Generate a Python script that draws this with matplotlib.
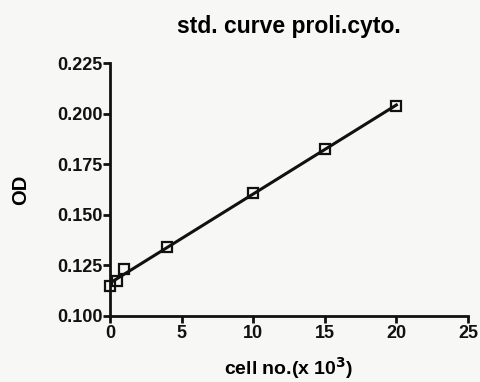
import numpy as np
import matplotlib
matplotlib.use("Agg")
from matplotlib import pyplot as plt

plt.rcParams['font.family'] = ['Liberation Sans', 'DejaVu Sans']
plt.rcParams['font.weight'] = 'bold'

# cell number (x 10^3) and measured OD
cells = [0, 0.5, 1, 4, 10, 15, 20]
od = [0.1147, 0.1172, 0.1230, 0.1339, 0.1608, 0.1824, 0.2040]

x_ticks = [0, 5, 10, 15, 20, 25]
y_ticks = [0.100, 0.125, 0.150, 0.175, 0.200, 0.225]

# linear regression through the standards
slope, intercept = np.polyfit(cells, od, 1)
fit_x = np.array([min(cells), max(cells)])
fit_y = slope * fit_x + intercept

bg = '#f7f7f5'
fig = plt.figure(figsize=(4.8, 3.82), dpi=100, facecolor=bg)
ax = fig.add_axes([0.229, 0.1735, 0.746, 0.6605])
ax.set_facecolor(bg)

ax.plot(fit_x, fit_y, c='#111111', lw=2.2)
ax.plot(cells, od, ls='none', marker='s', ms=7, mfc='none', mec='#111111', mew=1.6,
        clip_on=False, zorder=4)

ax.set_xlim(0, 25)
ax.set_ylim(0.100, 0.225)
ax.set_xticks(x_ticks)
ax.set_yticks(y_ticks)
ax.set_yticklabels(["%.3f" % v for v in y_ticks])

for side in ['top', 'right']:
    ax.spines[side].set_visible(False)
for side in ['left', 'bottom']:
    ax.spines[side].set_linewidth(2)
    ax.spines[side].set_color('#111111')
ax.tick_params(axis='both', which='major', direction='out', length=5, width=2,
               labelsize=13, colors='#111111')
ax.tick_params(axis='y', pad=0.5)
ax.tick_params(axis='x', pad=2)

ax.set_title("std. curve proli.cyto.", fontsize=16.5, fontweight='bold', pad=22)
ax.set_xlabel("cell no.(x 10$^3$)", fontsize=14, fontweight='bold', labelpad=9)
ax.set_ylabel("OD", fontsize=14.5, fontweight='bold', labelpad=19)

fig.savefig("out.png", dpi=100, facecolor=bg)
